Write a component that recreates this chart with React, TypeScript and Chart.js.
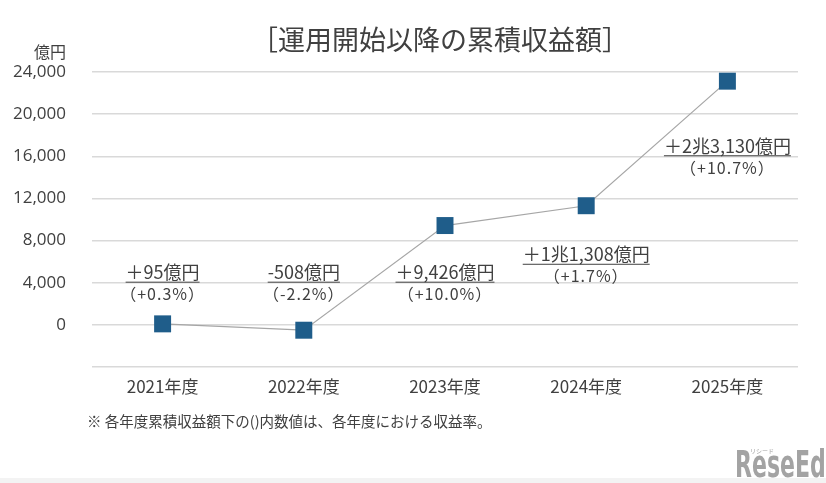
import React, { useEffect, useRef } from "react";
import { Chart, registerables } from "chart.js";

Chart.register(...registerables);

// Fiscal years and cumulative returns since launch (億円)
const fiscalYears = ["2021年度", "2022年度", "2023年度", "2024年度", "2025年度"];
const cumulativeReturns = [95, -508, 9426, 11308, 23130];
const amountLabels = ["＋95億円", "-508億円", "＋9,426億円", "＋1兆1,308億円", "＋2兆3,130億円"];
const rateLabels = ["（+0.3%）", "（-2.2%）", "（+10.0%）", "（+1.7%）", "（+10.7%）"];
// value level (億円) at which each pair of callout texts is centred
const labelLevels = [5000, 5000, 5000, 6700, 17000];

const yMin = -4000;
const yMax = 24000;
const yStep = 4000;

const titleText = "［運用開始以降の累積収益額］";
const unitText = "億円";
const noteText = "※ 各年度累積収益額下の()内数値は、各年度における収益率。";

const JP = "'Noto Sans CJK JP', 'Noto Sans', sans-serif";
const TEXT = "#404040";

const decorPlugin = {
  id: "decor",
  beforeDraw(chart: any) {
    const { ctx, width, height } = chart;
    ctx.save();
    ctx.fillStyle = "#ffffff";
    ctx.fillRect(0, 0, width, height);
    ctx.restore();
  },
  afterDatasetsDraw(chart: any) {
    const { ctx } = chart;
    const xs = chart.scales.x;
    const ys = chart.scales.y;
    ctx.save();
    ctx.fillStyle = TEXT;
    ctx.strokeStyle = TEXT;
    ctx.textAlign = "center";
    ctx.textBaseline = "middle";
    amountLabels.forEach((txt, i) => {
      const cx = xs.getPixelForValue(i);
      const cy = ys.getPixelForValue(labelLevels[i]);
      ctx.letterSpacing = "0px";
      ctx.font = `18px ${JP}`;
      ctx.fillText(txt, cx, cy);
      const w = ctx.measureText(txt).width;
      ctx.lineWidth = 1;
      ctx.beginPath();
      ctx.moveTo(cx - w / 2, cy + 10);
      ctx.lineTo(cx + w / 2, cy + 10);
      ctx.stroke();
      ctx.font = `16px ${JP}`;
      ctx.letterSpacing = "1px";
      ctx.fillText(rateLabels[i], cx, cy + 22);
    });
    ctx.letterSpacing = "0px";
    ctx.restore();
  },
  afterDraw(chart: any) {
    const { ctx, width, height } = chart;
    ctx.save();
    ctx.fillStyle = TEXT;
    ctx.textBaseline = "middle";
    // title
    ctx.font = `27px ${JP}`;
    ctx.textAlign = "center";
    ctx.fillText(titleText, 440, 40);
    // unit
    ctx.font = `16px ${JP}`;
    ctx.textAlign = "right";
    ctx.fillText(unitText, 66, 52);
    // footnote
    ctx.font = `14.5px ${JP}`;
    ctx.textAlign = "left";
    ctx.fillText(noteText, 87, 421);
    // bottom strip
    ctx.fillStyle = "#f3f3f3";
    ctx.fillRect(0, height - 5, width, 5);
    // site mark
    ctx.fillStyle = "#a3a3a3";
    ctx.font = "bold 37px 'DejaVu Sans Condensed', 'DejaVu Sans', sans-serif";
    ctx.textAlign = "left";
    ctx.textBaseline = "alphabetic";
    const k = 60 / ctx.measureText("Rese").width;
    ctx.translate(735, 477);
    ctx.scale(k, 1);
    ctx.fillText("ReseEd", 0, 0);
    ctx.setTransform(1, 0, 0, 1, 0, 0);
    ctx.font = `6px ${JP}`;
    ctx.textAlign = "center";
    ctx.fillText("リシード", 762, 453);
    ctx.restore();
  },
};

export default function App() {
  const canvasRef = useRef<HTMLCanvasElement | null>(null);

  useEffect(() => {
    document.body.style.margin = "0";
    const canvas = canvasRef.current;
    if (!canvas) return;
    const chart = new Chart(canvas, {
      type: "line",
      data: {
        labels: fiscalYears,
        datasets: [
          {
            data: cumulativeReturns,
            borderColor: "#a6a6a6",
            borderWidth: 1.2,
            pointStyle: "rect",
            pointRadius: 12,
            pointHoverRadius: 12,
            pointBackgroundColor: "#1f5d8a",
            pointBorderColor: "#1f5d8a",
            pointBorderWidth: 0,
            tension: 0,
          },
        ],
      },
      options: {
        animation: false,
        responsive: false,
        maintainAspectRatio: false,
        layout: { padding: { left: 0, right: 28, top: 72, bottom: 0 } },
        plugins: {
          legend: { display: false },
          tooltip: { enabled: false },
          title: { display: false },
        },
        scales: {
          x: {
            offset: true,
            grid: { display: false },
            border: { display: false },
            ticks: {
              color: TEXT,
              font: { family: JP, size: 17 },
              padding: 1,
              maxRotation: 0,
            },
            afterFit(scale: any) {
              scale.height = 116;
            },
          },
          y: {
            min: yMin,
            max: yMax,
            grid: { color: "#d9d9d9", lineWidth: 1.5, drawTicks: false },
            border: { display: false },
            ticks: {
              stepSize: yStep,
              color: TEXT,
              padding: 26,
              font: { family: "'Open Sans', sans-serif", size: 17 },
              callback: (v: any) => (Number(v) < 0 ? "" : Number(v).toLocaleString("en-US")),
            },
            afterFit(scale: any) {
              scale.width = 92;
            },
          },
        },
      },
      plugins: [decorPlugin],
    });
    return () => chart.destroy();
  }, []);

  return (
    <div style={{ position: "fixed", left: 0, top: 0, width: 826, height: 483 }}>
      <canvas ref={canvasRef} width={826} height={483} style={{ width: 826, height: 483 }} />
    </div>
  );
}
